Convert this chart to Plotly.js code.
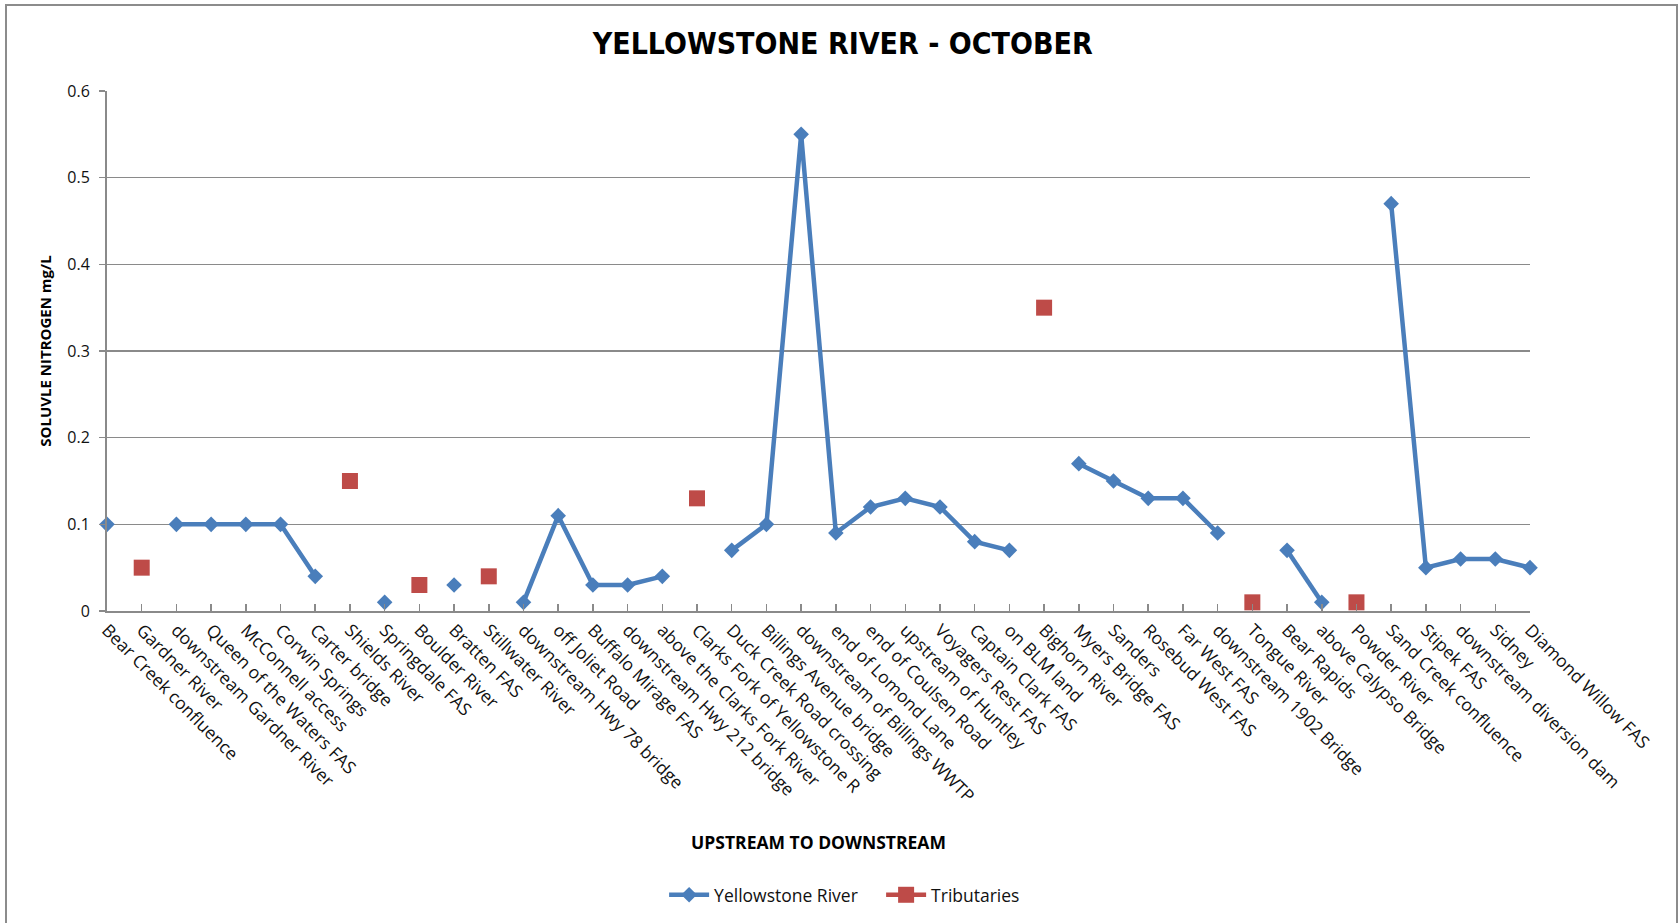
<!DOCTYPE html>
<html>
<head>
<meta charset="utf-8">
<script src="https://cdn.plot.ly/plotly-3.0.1.min.js"></script>
<style>
html,body{margin:0;padding:0;background:#fff;}
#wrap{position:relative;width:1680px;height:923px;}
#chart{position:absolute;left:0;top:0;width:1680px;height:923px;}
#frame{position:absolute;left:5px;top:4px;width:1669px;height:917px;border:2px solid #8c8c8c;pointer-events:none;}
</style>
</head>
<body>
<div id="wrap"><div id="chart"></div><div id="frame"></div></div>
<script>
const sites = [
  "Bear Creek confluence","Gardner River","downstream Gardner River","Queen of the Waters FAS",
  "McConnell access","Corwin Springs","Carter bridge","Shields River","Springdale FAS",
  "Boulder River","Bratten FAS","Stillwater River","downstream Hwy 78 bridge","off Joliet Road",
  "Buffalo Mirage FAS","downstream Hwy 212 bridge","above the Clarks Fork River",
  "Clarks Fork of Yellowstone R","Duck Creek Road crossing","Billings Avenue bridge",
  "downstream of Billings WWTP","end of Lomond Lane","end of Coulsen Road","upstream of Huntley",
  "Voyagers Rest FAS","Captain Clark FAS","on BLM land","Bighorn River","Myers Bridge FAS",
  "Sanders","Rosebud West FAS","Far West FAS","downstream 1902 Bridge","Tongue River",
  "Bear Rapids","above Calypso Bridge","Powder River","Sand Creek confluence","Stipek FAS",
  "downstream diversion dam","Sidney","Diamond Willow FAS"
];
const yellowstone = [
  0.10, null, 0.10, 0.10, 0.10, 0.10, 0.04, null, 0.01, null, 0.03, null, 0.01, 0.11,
  0.03, 0.03, 0.04, null, 0.07, 0.10, 0.55, 0.09, 0.12, 0.13, 0.12, 0.08, 0.07, null,
  0.17, 0.15, 0.13, 0.13, 0.09, null, 0.07, 0.01, null, 0.47, 0.05, 0.06, 0.06, 0.05
];
const tributaries = [
  null, 0.05, null, null, null, null, null, 0.15, null, 0.03, null, 0.04, null, null,
  null, null, null, 0.13, null, null, null, null, null, null, null, null, null, 0.35,
  null, null, null, null, null, 0.01, null, null, 0.01, null, null, null, null, null
];
const yTicks = [0, 0.1, 0.2, 0.3, 0.4, 0.5, 0.6];

const baseFont = "Open Sans, Liberation Sans, Arial, sans-serif";
const narrowBold = "Liberation Sans Narrow, DejaVu Sans Condensed, Arial Narrow, sans-serif";

const traces = [
  {
    x: sites, y: yellowstone, name: "Yellowstone River", type: "scatter", mode: "lines+markers",
    connectgaps: false, cliponaxis: false,
    line: {color: "#4A7EBB", width: 4.5},
    marker: {symbol: "diamond", size: 12, color: "#4A7EBB"}
  },
  {
    x: sites, y: tributaries, name: "Tributaries", type: "scatter", mode: "lines+markers",
    connectgaps: false, cliponaxis: false,
    line: {color: "#BE4B48", width: 4.5},
    marker: {symbol: "square", size: 16, color: "#BE4B48"}
  }
];

const layout = {
  width: 1680, height: 923,
  paper_bgcolor: "rgba(0,0,0,0)", plot_bgcolor: "#fff",
  margin: {l: 107, r: 150, t: 91, b: 311},
  showlegend: true,
  title: {
    text: "<b>YELLOWSTONE RIVER - OCTOBER</b>",
    font: {family: narrowBold, size: 30, color: "#000"},
    x: 0.517, xref: "paper", xanchor: "center", y: 0.953, yanchor: "middle"
  },
  xaxis: {
    type: "category", categoryorder: "array", categoryarray: sites,
    range: [0, 41], showgrid: false, zeroline: false,
    showline: true, linecolor: "#8a8a8a", linewidth: 2,
    ticks: "inside", ticklen: 7, tickcolor: "#8a8a8a", tickwidth: 1.5,
    tickangle: 45, tickfont: {family: baseFont, size: 17.5, color: "#111"},
    title: {text: "<b>UPSTREAM TO DOWNSTREAM</b>", font: {family: baseFont, size: 17.5, color: "#000"}, standoff: 31},
    automargin: false
  },
  yaxis: {
    range: [0, 0.6], tickvals: yTicks, ticktext: yTicks.map(v => String(v)),
    showgrid: true, gridcolor: "#8a8a8a", gridwidth: 1.5, zeroline: false,
    showline: true, linecolor: "#8a8a8a", linewidth: 2,
    ticks: "outside", ticklen: 6, tickcolor: "#8a8a8a", tickwidth: 1.5,
    ticklabelstandoff: 6,
    tickfont: {family: baseFont, size: 16, color: "#111"},
    title: {text: "<b>SOLUVLE NITROGEN mg/L</b>", font: {family: baseFont, size: 15, color: "#000"}, standoff: 12},
    automargin: false
  },
  legend: {
    orientation: "h", x: 0.544, xanchor: "center", y: -0.543, yanchor: "middle",
    font: {family: baseFont, size: 17.5, color: "#111"}, itemwidth: 40, tracegroupgap: 0,
    entrywidth: 162, entrywidthmode: "pixels",
    bgcolor: "rgba(0,0,0,0)"
  }
};

Plotly.newPlot("chart", traces, layout, {displayModeBar: false, staticPlot: true});
</script>
</body>
</html>
